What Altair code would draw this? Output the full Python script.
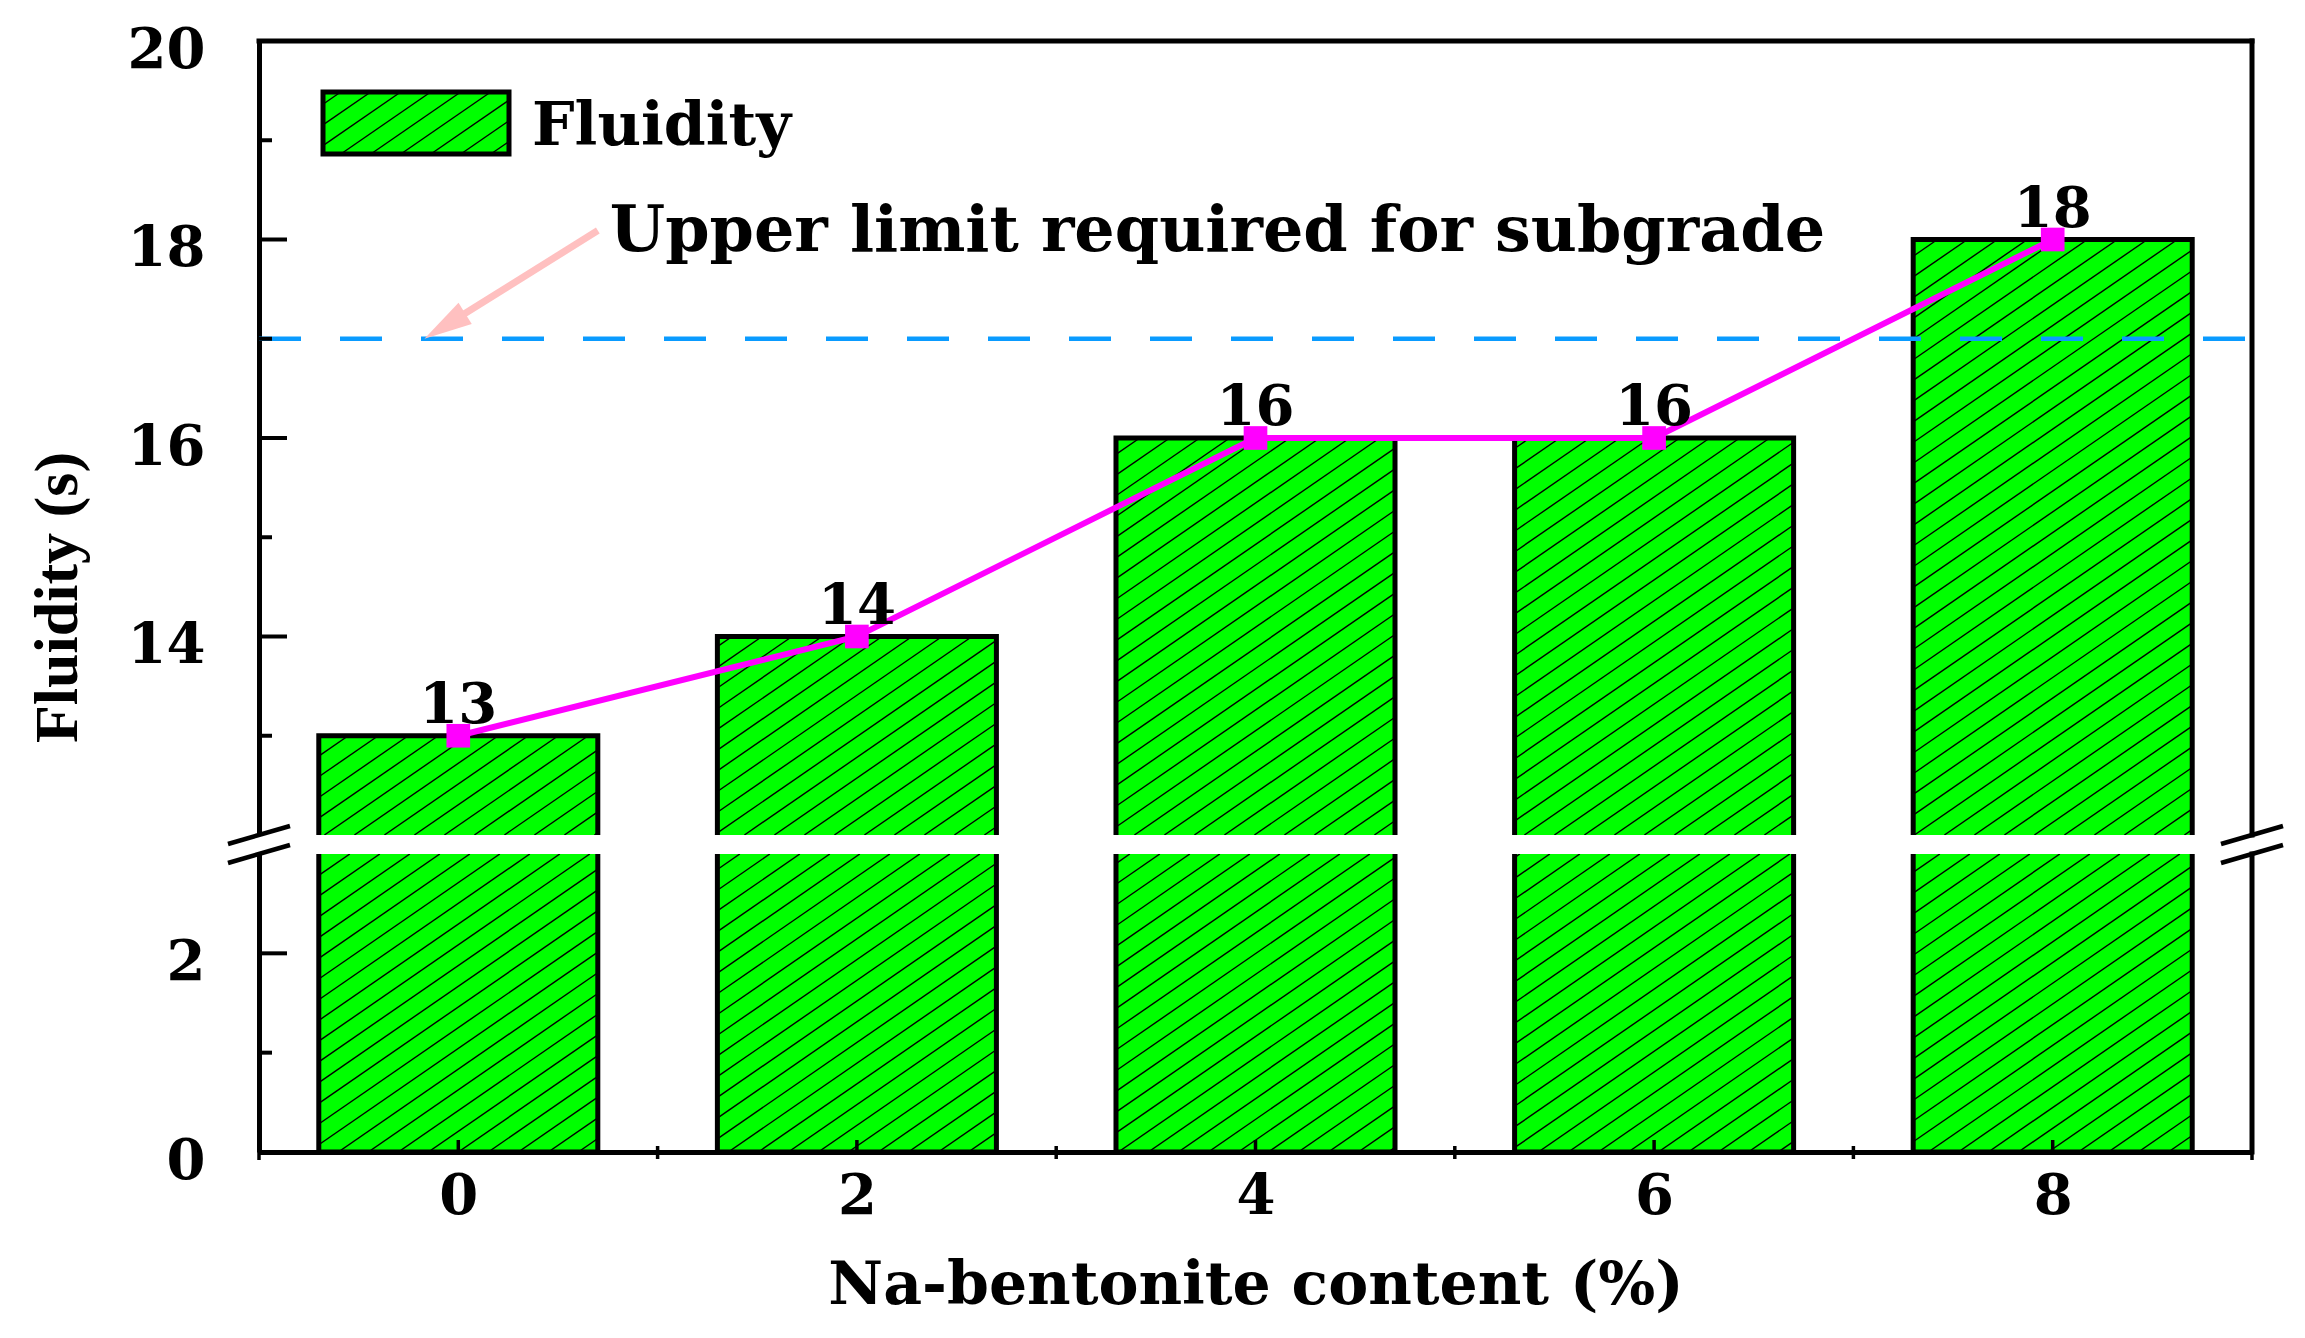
import altair as alt
import numpy as np
import pandas as pd

# ---------------- data ----------------
contents = [0, 2, 4, 6, 8]                 # Na-bentonite content (%)
fluidity = [13, 14, 16, 16, 18]            # Fluidity (s)
series_name = "Fluidity"
limit_value = 17
annotation_text = "Upper limit required for subgrade"
x_title = "Na-bentonite content (%)"
y_title = "Fluidity (s)"

x_major = [0, 2, 4, 6, 8]
x_minor = [1, 3, 5, 7]
up_major = [14, 16, 18, 20]
up_minor = [13, 15, 17, 19]
lo_major = [0, 2]
lo_minor = [1]

# annotation anchors (data coordinates)
ann_pos = (0.76, 17.88)
arrow_tail = (0.70, 18.09)
arrow_tip = (-0.17, 17.0)

# ---------------- layout / style ----------------
X_DOMAIN = [-1, 9]
UP_DOMAIN = [12, 20]
LO_DOMAIN = [0, 3]
BAR_HALF = 0.7
W = 1993
H_UP = 794
H_LO = 298
GAP = 19

FONT = "DejaVu Serif"
GREEN = "#00FF00"
MAGENTA = "#FF00FF"
BLUE = "#0A9BFF"
PINK = "#FFC0C0"

# legend box (pixels, relative to the upper plot area)
LEG_X, LEG_Y, LEG_W, LEG_H = 64, 51, 186, 62
LEG_GAP = 23

px_x = W / (X_DOMAIN[1] - X_DOMAIN[0])
px_y = H_UP / (UP_DOMAIN[1] - UP_DOMAIN[0])
HATCH_SLOPE = 0.69      # rise per run, in pixels
HATCH_SPACING = 30      # horizontal pixels between hatch lines
k = HATCH_SLOPE * px_x / px_y
db = k * HATCH_SPACING / px_x

bars = pd.DataFrame({"content": contents, "fluidity": fluidity})
bars["xl"] = bars["content"] - BAR_HALF
bars["xr"] = bars["content"] + BAR_HALF
bars["zero"] = 0
bars["series"] = series_name
bars["label"] = bars["fluidity"].astype(str)


def clip_hatch(xl, xr, y0, y1, phase=0.0):
    """Hatch segments y = k*x + b inside the data-space box [xl,xr]x[y0,y1]."""
    rows = []
    j0 = int(np.ceil((y0 - k * xr) / db - phase))
    j1 = int(np.floor((y1 - k * xl) / db - phase))
    for j in range(j0, j1 + 1):
        b = (j + phase) * db
        xa = max(xl, (y0 - b) / k)
        xb = min(xr, (y1 - b) / k)
        if xb - xa > 1e-6:
            rows.append(dict(hx=xa, hy=k * xa + b, hx2=xb, hy2=k * xb + b))
    return rows


def hatch_segments(ylo, yhi):
    rows = []
    for c, v in zip(contents, fluidity):
        y0, y1 = max(0.0, ylo), min(float(v), yhi)
        if y1 > y0:
            rows += clip_hatch(c - BAR_HALF, c + BAR_HALF, y0, y1)
    return pd.DataFrame(rows)


# legend box in data units of the upper panel
leg_xl = X_DOMAIN[0] + LEG_X / px_x
leg_xr = X_DOMAIN[0] + (LEG_X + LEG_W) / px_x
leg_yt = UP_DOMAIN[1] - LEG_Y / px_y
leg_yb = UP_DOMAIN[1] - (LEG_Y + LEG_H) / px_y
leg_box = pd.DataFrame({"xl": [leg_xl], "xr": [leg_xr], "yb": [leg_yb], "yt": [leg_yt],
                        "tx": [leg_xr + LEG_GAP / px_x], "ty": [(leg_yb + leg_yt) / 2],
                        "t": [series_name]})
leg_hatch_df = pd.DataFrame(clip_hatch(leg_xl, leg_xr, leg_yb, leg_yt, phase=0.35))

xs = alt.Scale(domain=X_DOMAIN, nice=False, zero=False)
ys_up = alt.Scale(domain=UP_DOMAIN, nice=False, zero=False)
ys_lo = alt.Scale(domain=LO_DOMAIN, nice=False, zero=False)

lab = dict(labelFont=FONT, labelFontWeight="bold", labelFontSize=56, labelColor="black")

y_axis_up = alt.Axis(values=up_major, ticks=False, grid=False, domainColor="black", domainWidth=5,
                     labelPadding=54, labelOffset=9, format="d", title=y_title,
                     titleFont="Liberation Serif", titleFontWeight="bold", titleFontSize=62,
                     titleColor="black", titleAngle=270, titleX=-183, titleY=556,
                     titleAlign="center", titleBaseline="alphabetic", **lab)
y_axis_lo = alt.Axis(values=lo_major, ticks=False, grid=False, domainColor="black", domainWidth=5,
                     labelPadding=54, labelOffset=9, format="d", title=None, **lab)
x_axis_lo = alt.Axis(values=x_major, ticks=False, grid=False, domainColor="black", domainWidth=5,
                     labelPadding=17, format="d", labelFlush=False, labelOverlap=False,
                     title=x_title, titleFont=FONT, titleFontWeight="bold", titleFontSize=60,
                     titleColor="black", titleY=151, titleBaseline="alphabetic", **lab)


def XU(f):
    return alt.X(f, type="quantitative", scale=xs, axis=None)


def XL(f):
    return alt.X(f, type="quantitative", scale=xs, axis=x_axis_lo)


def YU(f):
    return alt.Y(f, type="quantitative", scale=ys_up, axis=y_axis_up)


def YL(f):
    return alt.Y(f, type="quantitative", scale=ys_lo, axis=y_axis_lo)


# ---------------- upper panel ----------------
base = alt.Chart(bars)
up_fill = base.mark_bar(clip=True, color=GREEN).encode(
    x=XU("xl"), x2="xr", y=YU("fluidity"), y2="zero")
up_hatch = alt.Chart(hatch_segments(*UP_DOMAIN)).mark_rule(color="black", strokeWidth=1.4, clip=True).encode(
    x=XU("hx"), x2="hx2", y=YU("hy"), y2="hy2")
up_outline = base.mark_bar(clip=True, fillOpacity=0, stroke="black", strokeWidth=5).encode(
    x=XU("xl"), x2="xr", y=YU("fluidity"), y2="zero")

limit_df = pd.DataFrame({"x0": [X_DOMAIN[0]], "x1": [X_DOMAIN[1]], "y": [limit_value]})
up_limit = alt.Chart(limit_df).mark_rule(color=BLUE, strokeWidth=4.5, strokeDash=[42, 39]).encode(
    x=XU("x0"), x2="x1", y=YU("y"))

up_line = base.mark_line(color=MAGENTA, strokeWidth=6).encode(x=XU("content"), y=YU("fluidity"))
up_pts = base.mark_point(shape="square", filled=True, color=MAGENTA, size=560, opacity=1).encode(
    x=XU("content"), y=YU("fluidity"))
up_text = base.mark_text(font=FONT, fontWeight="bold", fontSize=56, dy=-13, baseline="alphabetic",
                         align="center", color="black").encode(
    x=XU("content"), y=YU("fluidity"), text="label")

f = 0.15
shaft_end = (arrow_tip[0] + f * (arrow_tail[0] - arrow_tip[0]), arrow_tip[1] + f * (arrow_tail[1] - arrow_tip[1]))
arrow_df = pd.DataFrame({"x": [arrow_tail[0]], "y": [arrow_tail[1]], "x2": [shaft_end[0]], "y2": [shaft_end[1]],
                         "tx": [arrow_tip[0]], "ty": [arrow_tip[1]]})
up_shaft = alt.Chart(arrow_df).mark_rule(color=PINK, strokeWidth=7).encode(
    x=XU("x"), x2="x2", y=YU("y"), y2="y2")
up_head = alt.Chart(arrow_df).mark_point(shape="M0,0L0.26,1L-0.26,1Z", size=9216, filled=True,
                                         color=PINK, opacity=1, angle=238).encode(
    x=XU("tx"), y=YU("ty"))

ann_df = pd.DataFrame({"x": [ann_pos[0]], "y": [ann_pos[1]], "t": [annotation_text]})
up_ann = alt.Chart(ann_df).mark_text(font=FONT, fontWeight="bold", fontSize=63.5, align="left",
                                     baseline="alphabetic", color="black").encode(
    x=XU("x"), y=YU("y"), text="t")

frame_up = pd.DataFrame({"x": [X_DOMAIN[0], X_DOMAIN[1]], "x2": [X_DOMAIN[1], X_DOMAIN[1]],
                         "y": [UP_DOMAIN[1], UP_DOMAIN[0]], "y2": [UP_DOMAIN[1], UP_DOMAIN[1]]})
up_frame = alt.Chart(frame_up).mark_rule(color="black", strokeWidth=5, strokeCap="square").encode(
    x=XU("x"), x2="x2", y=YU("y"), y2="y2")

tk_up_major = pd.DataFrame({"x": X_DOMAIN[0], "y": up_major})
tk_up_minor = pd.DataFrame({"x": X_DOMAIN[0], "y": up_minor})
up_tmaj = alt.Chart(tk_up_major).mark_rule(color="black", strokeWidth=4, x2Offset=28).encode(
    x=XU("x"), x2="x", y=YU("y"))
up_tmin = alt.Chart(tk_up_minor).mark_rule(color="black", strokeWidth=4, x2Offset=13).encode(
    x=XU("x"), x2="x", y=YU("y"))

# legend (drawn as marks so that its swatch carries the same hatching as the bars)
lg_fill = alt.Chart(leg_box).mark_rect(color=GREEN).encode(x=XU("xl"), x2="xr", y=YU("yb"), y2="yt")
lg_hatch = alt.Chart(leg_hatch_df).mark_rule(color="black", strokeWidth=1.4).encode(
    x=XU("hx"), x2="hx2", y=YU("hy"), y2="hy2")
lg_out = alt.Chart(leg_box).mark_rect(fillOpacity=0, stroke="black", strokeWidth=5).encode(
    x=XU("xl"), x2="xr", y=YU("yb"), y2="yt")
lg_text = alt.Chart(leg_box).mark_text(font=FONT, fontWeight="bold", fontSize=60, align="left",
                                       baseline="alphabetic", dy=22, color="black").encode(
    x=XU("tx"), y=YU("ty"), text="t")

upper = alt.layer(up_fill, up_hatch, up_outline, up_limit, up_line, up_pts, up_text,
                  up_shaft, up_head, up_ann, up_frame, up_tmaj, up_tmin,
                  lg_fill, lg_hatch, lg_out, lg_text).properties(width=W, height=H_UP)

# ---------------- lower panel ----------------
lo_fill = base.mark_bar(clip=True, color=GREEN).encode(
    x=XL("xl"), x2="xr", y=YL("fluidity"), y2="zero")
lo_hatch = alt.Chart(hatch_segments(*LO_DOMAIN)).mark_rule(color="black", strokeWidth=1.4, clip=True).encode(
    x=XL("hx"), x2="hx2", y=YL("hy"), y2="hy2")
lo_outline = base.mark_bar(clip=True, fillOpacity=0, stroke="black", strokeWidth=5).encode(
    x=XL("xl"), x2="xr", y=YL("fluidity"), y2="zero")

frame_lo = pd.DataFrame({"x": [X_DOMAIN[1]], "y": [LO_DOMAIN[0]], "y2": [LO_DOMAIN[1]]})
lo_frame = alt.Chart(frame_lo).mark_rule(color="black", strokeWidth=5, strokeCap="square").encode(
    x=XL("x"), y=YL("y"), y2="y2")

lo_tmaj = alt.Chart(pd.DataFrame({"x": X_DOMAIN[0], "y": lo_major})).mark_rule(
    color="black", strokeWidth=4, x2Offset=28).encode(x=XL("x"), x2="x", y=YL("y"))
lo_tmin = alt.Chart(pd.DataFrame({"x": X_DOMAIN[0], "y": lo_minor})).mark_rule(
    color="black", strokeWidth=4, x2Offset=13).encode(x=XL("x"), x2="x", y=YL("y"))

lo_xmaj = alt.Chart(pd.DataFrame({"x": x_major, "y": 0})).mark_rule(
    color="black", strokeWidth=3.5, y2Offset=-12).encode(x=XL("x"), y=YL("y"), y2="y")
lo_xmin = alt.Chart(pd.DataFrame({"x": x_minor, "y": 0})).mark_rule(
    color="black", strokeWidth=3.5, yOffset=7, y2Offset=-6).encode(x=XL("x"), y=YL("y"), y2="y")
lo_xend = alt.Chart(pd.DataFrame({"x": X_DOMAIN, "y": 0})).mark_rule(
    color="black", strokeWidth=3.5, y2Offset=8).encode(x=XL("x"), y=YL("y"), y2="y")

brk = pd.DataFrame({"x": X_DOMAIN, "y": LO_DOMAIN[1]})
lo_slash1 = alt.Chart(brk).mark_rule(color="black", strokeWidth=4.5, xOffset=-31, x2Offset=31,
                                     yOffset=9, y2Offset=-9).encode(x=XL("x"), x2="x", y=YL("y"), y2="y")
lo_slash2 = alt.Chart(brk).mark_rule(color="black", strokeWidth=4.5, xOffset=-31, x2Offset=31,
                                     yOffset=-10, y2Offset=-28).encode(x=XL("x"), x2="x", y=YL("y"), y2="y")

lower = alt.layer(lo_fill, lo_hatch, lo_outline, lo_frame, lo_tmaj, lo_tmin, lo_xmaj, lo_xmin,
                  lo_xend, lo_slash1, lo_slash2).properties(width=W, height=H_LO)

chart = alt.vconcat(upper, lower, spacing=GAP, bounds="flush").resolve_scale(y="independent").properties(
    padding={"left": 18, "top": 14, "right": 5, "bottom": 5}, background="white"
).configure_view(stroke=None)

chart.save("out.html", embed_options={"renderer": "svg", "actions": False})
